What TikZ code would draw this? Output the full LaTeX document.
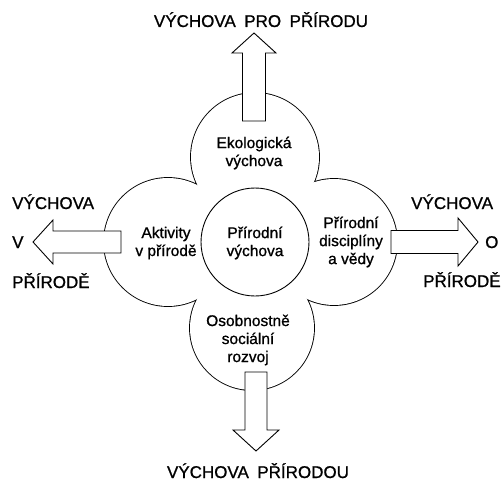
\documentclass[tikz,border=0pt]{standalone}
\usepackage{fontspec}
\setmainfont{Liberation Sans}[RawFeature={embolden=0.9}]
\begin{document}
\begin{tikzpicture}[x=1pt,y=-1pt,
  ink/.style={line width=0.9pt},
  petalrim/.style={draw, line width=1.8pt},
  petal/.style={circle, fill=white, inner sep=0pt, minimum size=#1},
  core/.style={circle, draw, ink, fill=white, inner sep=0pt, minimum size=108pt},
  fatarrow/.style={draw, ink, fill=white, line join=miter},
  intext/.style={align=center, inner sep=0pt, font=\fontsize{15.5}{18}\selectfont},
  outtext/.style={inner sep=0pt, font=\fontsize{17}{20}\selectfont},
]
\useasboundingbox (0,0) rectangle (503,489);

% outline of the four petals (only the outer rim stays visible)
\draw[petalrim] (255,157) circle[radius=64pt]
                (168,242) circle[radius=64pt]
                (334,242) circle[radius=63pt]
                (252,328) circle[radius=62pt];
\node[petal=128pt] (eco) at (255,157) {};
\node[petal=128pt] (akt) at (168,242) {};
\node[petal=126pt] (dis) at (334,242) {};
\node[petal=124pt] (oso) at (252,328) {};

% central circle
\node[core] (pv) at (255,242) {};

% texts inside the circles
\node[intext] (ecotxt) at (254,153) {Ekologická\\výchova};
\node[intext] (akttxt) at (166,243) {Aktivity\\v přírodě};
\node[intext] (pvtxt)  at (255,243) {Přírodní\\výchova};
\node[intext] (distxt) at (351,242) {Přírodní\\disciplíny\\a vědy};
\node[intext] (osotxt) at (248,340) {Osobnostně\\sociální\\rozvoj};

% block arrows
\draw[fatarrow] (242.5,121) -- (242.5,53) -- (232,53) -- (254,33) -- (276,53)
                -- (265.5,53) -- (265.5,121) -- cycle;
\draw[fatarrow] (121,231) -- (53,231) -- (53,220) -- (33,242) -- (53,264)
                -- (53,253) -- (121,253) -- cycle;
\draw[fatarrow] (391,230.5) -- (458,230.5) -- (458,218) -- (478,242) -- (458,266)
                -- (458,253.5) -- (391,253.5) -- cycle;
\draw[fatarrow] (245,372) -- (245,430) -- (233,430) -- (256,451) -- (279,430)
                -- (267,430) -- (267,372) -- cycle;

% outer labels
\node[outtext, anchor=base] (pro) at (261,27) {VÝCHOVA\hspace{0.5em}PRO\hspace{0.5em}PŘÍRODU};
\node[outtext, anchor=base] (prirodou) at (258,478) {VÝCHOVA\hspace{0.5em}PŘÍRODOU};
\node[outtext, anchor=base west] (lv1) at (12,209) {VÝCHOVA};
\node[outtext, anchor=base west] (lv2) at (12,248) {V};
\node[outtext, anchor=base west] (lv3) at (12,288) {PŘÍRODĚ};
\node[outtext, anchor=base west] (ro1) at (411,209) {VÝCHOVA};
\node[outtext, anchor=base west] (ro2) at (485,248) {O};
\node[outtext, anchor=base west] (ro3) at (423,287) {PŘÍRODĚ};
\end{tikzpicture}
\end{document}
